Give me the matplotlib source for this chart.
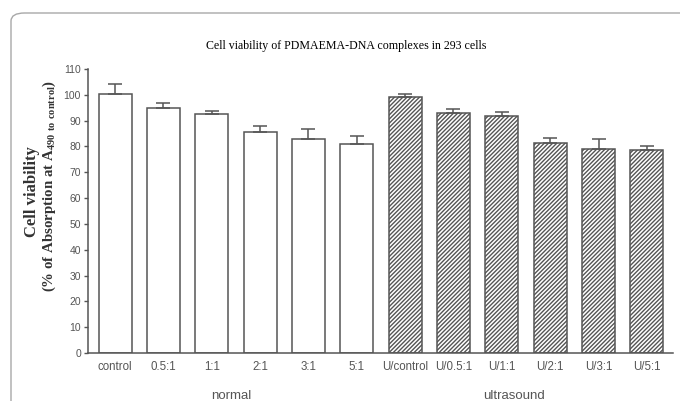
import numpy as np
import matplotlib
matplotlib.use('Agg')
import matplotlib.pyplot as plt
from matplotlib.patches import FancyBboxPatch
import matplotlib.transforms as mtransforms

# values
categories = ['control', '0.5:1', '1:1', '2:1', '3:1', '5:1',
              'U/control', 'U/0.5:1', 'U/1:1', 'U/2:1', 'U/3:1', 'U/5:1']
viability = [100.3, 95.0, 92.6, 85.5, 82.8, 80.9,
             99.3, 93.1, 91.9, 81.2, 79.1, 78.6]
errors = [3.7, 1.9, 1.2, 2.4, 3.8, 3.1,
          1.2, 1.5, 1.3, 2.2, 3.6, 1.7]
groups = ['normal'] * 6 + ['ultrasound'] * 6
group_labels = ['normal', 'ultrasound']
y_ticks = list(range(0, 111, 10))

plt.rcParams['hatch.linewidth'] = 1.0
plt.rcParams['hatch.color'] = '#3c3c3c'

fig = plt.figure(figsize=(6.8, 4.01), dpi=100)
ax = fig.add_axes([0.1294, 0.1197, 0.8603, 0.7083])

# rounded frame round the whole figure (only top and left edges show)
frame = FancyBboxPatch((11 / 680, -0.2), 1.2, (401 - 13) / 401 + 0.2,
                       boxstyle='round,pad=0,rounding_size=0.02',
                       transform=fig.transFigure, fill=False,
                       edgecolor='#a8a8a8', linewidth=1.0, zorder=0)
fig.patches.append(frame)

x = np.arange(len(categories))
for i, (val, err, grp) in enumerate(zip(viability, errors, groups)):
    hatch = '////////' if grp == 'ultrasound' else None
    ax.bar(x[i], val, width=0.68, color='white', edgecolor='#555555',
           linewidth=1.1, hatch=hatch, zorder=2)
    ax.errorbar(x[i], val, yerr=[[0], [err]], fmt='none', ecolor='#555555',
                elinewidth=1.1, capsize=5, capthick=1.1, zorder=3)

ax.set_xlim(-0.56, len(categories) - 0.46)
ax.set_ylim(0, 110)
ax.set_yticks(y_ticks)
ax.set_yticklabels([str(t) for t in y_ticks], fontsize=7.5, color='#555555',
                   family='Liberation Sans')
ax.set_xticks(x)
ax.set_xticklabels(categories, fontsize=8.3, color='#555555',
                   family='Liberation Sans')
ax.tick_params(axis='x', length=0, pad=6)
ax.tick_params(axis='y', length=3, width=1, color='#555555', pad=2)

for side in ['top', 'right']:
    ax.spines[side].set_visible(False)
for side in ['left', 'bottom']:
    ax.spines[side].set_color('#555555')
    ax.spines[side].set_linewidth(1.1)

# group labels under the tick labels
trans = mtransforms.blended_transform_factory(ax.transData, fig.transFigure)
ax.text(2.4, 1 - 396 / 401, group_labels[0], transform=trans, ha='center',
        va='center', fontsize=9.5, color='#555555', family='Liberation Sans')
ax.text(8.25, 1 - 396 / 401, group_labels[1], transform=trans, ha='center',
        va='center', fontsize=9.5, color='#555555', family='Liberation Sans')

fig.text(346 / 680, 1 - 46 / 401,
         'Cell viability of PDMAEMA-DNA complexes in 293 cells',
         ha='center', va='center', fontsize=8.6, family='Liberation Serif')

fig.text(32 / 680, 1 - 192 / 401, 'Cell viability', rotation=90,
         ha='center', va='center', fontsize=12, fontweight='bold',
         family='Liberation Serif', color='#333333')
fig.text(49 / 680, 1 - 186 / 401,
         r'(% of Absorption at A$_{\mathregular{490\ to\ control}}$)',
         rotation=90, ha='center', va='center', fontsize=10.7,
         fontweight='bold', family='Liberation Serif', color='#333333')

fig.savefig('out.png', dpi=100)
